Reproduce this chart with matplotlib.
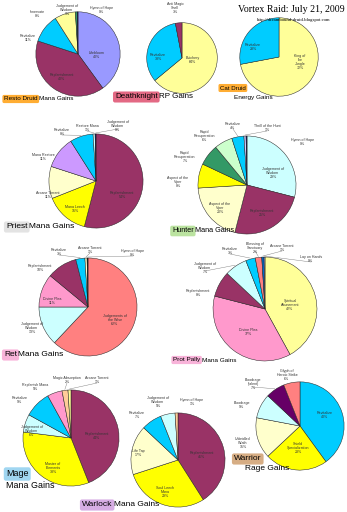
import numpy as np
import matplotlib.pyplot as plt

W, H = 347, 512

# ---- data (values in %) ----
resto_names = ['Lifebloom', 'Replenishment', 'Revitalize', 'Innervate', 'Judgement of\nWisdom', 'Hymn of Hope']
resto_vals = [40, 40, 11, 8, 0.7, 0.3]

dk_names = ['Butchery', 'Revitalize', 'Anti Magic\nShell']
dk_vals = [64, 33, 3]

cat_names = ['King of\nthe\nJungle', 'Revitalize']
cat_vals = [72, 28]

priest_names = ['Replenishment', 'Mana Leech', 'Arcane Torrent', 'Mana Restore', 'Revitalize',
                'Restore Mana', 'Judgement of\nWisdom']
priest_vals = [54, 15, 11, 11, 8, 0.7, 0.3]

hunter_names = ['Judgement of\nWisdom', 'Replenishment', 'Aspect of the\nViper', 'Aspect of the\nViper',
                'Rapid\nRecuperation', 'Rapid\nRecuperation', 'Revitalize', 'Thrill of the Hunt',
                'Hymn of Hope']
hunter_vals = [29, 25, 20, 8, 7, 6, 4, 0.7, 0.3]

ret_names = ['Judgements of\nthe Wise', 'Judgement of\nWisdom', 'Divine Plea', 'Replenishment',
             'Revitalize', 'Arcane Torrent', 'Hymn of Hope']
ret_vals = [62, 13, 11, 10, 3, 0.7, 0.3]

prot_names = ['Spiritual\nAttunement', 'Divine Plea', 'Replenishment', 'Judgement of\nWisdom',
              'Revitalize', 'Blessing of\nSanctuary', 'Arcane Torrent', 'Lay on Hands']
prot_vals = [42, 37, 8, 7, 3, 2, 0.7, 0.3]

mage_names = ['Replenishment', 'Master of\nElements', 'Judgement of\nWisdom', 'Revitalize',
              'Replenish Mana', 'Magic Absorption', 'Arcane Torrent']
mage_vals = [44, 33, 6, 9, 5, 2, 1]

lock_names = ['Replenishment', 'Soul Leech\nMana', 'Life Tap', 'Revitalize',
              'Judgement of\nWisdom', 'Hymn of Hope']
lock_vals = [41, 29, 17, 7, 5, 1]

warrior_names = ['Revitalize', 'Shield\nSpecialization', 'Unbridled\nWrath', 'Bloodrage',
                 'Bloodrage\n(talent)', 'Glyph of\nHeroic Strike']
warrior_vals = [40, 23, 15, 9, 7, 6]

# ---- figure ----
fig = plt.figure(figsize=(W / 100, H / 100), dpi=100)
fig.patch.set_facecolor('white')
plt.rcParams['font.family'] = ['Liberation Sans', 'DejaVu Sans']

pie_axes = []


def draw_pie(cx, cy, r, vals, names, colors, label_pos):
    ax = fig.add_axes([(cx - r) / W, 1 - (cy + r) / H, 2 * r / W, 2 * r / H])
    wedges, _ = ax.pie(vals, colors=colors, startangle=90, counterclock=False, radius=1,
                       wedgeprops=dict(edgecolor='#222222', linewidth=0.35))
    ax.set_xlim(-1.02, 1.02)
    ax.set_ylim(-1.02, 1.02)
    ax.axis('off')
    pie_axes.append((cx, cy, r, wedges, vals, names, label_pos))


def finish_labels(ov):
    for cx, cy, r, wedges, vals, names, label_pos in pie_axes:
        for w, v, n, (lx, ly, lead) in zip(wedges, vals, names, label_pos):
            ov.text(lx, ly, f'{n}\n{v:.0f}%', ha='center', va='center', fontsize=2.6,
                    color='#333333', linespacing=1.1)
            if lead:
                mid = np.deg2rad((w.theta1 + w.theta2) / 2)
                ex = cx + r * np.cos(mid)
                ey = cy - r * np.sin(mid)
                ov.plot([lx, ex], [ly + 3, ey], color='#777777', lw=0.3)


draw_pie(78, 54, 43, resto_vals, resto_names,
         ['#9999FF', '#993366', '#00CCFF', '#FFFF99', '#339966', '#000080'],
         [(97, 55, False), (62, 77, False), (28, 38, False), (37, 14, False),
          (67, 10, False), (102, 10, False)])
draw_pie(182, 58, 36, dk_vals, dk_names, ['#FFFF99', '#00CCFF', '#993366'],
         [(193, 60, False), (158, 57, False), (175, 8, False)])
draw_pie(279, 57, 40, cat_vals, cat_names, ['#FFFF99', '#00CCFF'],
         [(300, 62, False), (253, 47, False)])
draw_pie(96, 181, 48, priest_vals, priest_names,
         ['#993366', '#FFFF00', '#FFFFCC', '#CC99FF', '#00CCFF', '#CCFFFF', '#000080'],
         [(122, 195, False), (75, 209, False), (48, 195, False), (43, 157, False),
          (62, 132, True), (87, 128, True), (118, 126, True)])
draw_pie(247, 185, 50, hunter_vals, hunter_names,
         ['#CCFFFF', '#993366', '#FFFFCC', '#FFFF00', '#339966', '#CCFFCC', '#00CCFF', '#CCCCFF', '#000080'],
         [(273, 173, False), (262, 213, False), (220, 208, False), (178, 182, False),
          (185, 157, False), (205, 136, False), (233, 126, True), (267, 128, True), (303, 142, False)])
draw_pie(88, 307, 50, ret_vals, ret_names,
         ['#FF8080', '#CCFFFF', '#FF99CC', '#993366', '#00CCFF', '#FFFFCC', '#000000'],
         [(115, 320, False), (32, 328, False), (52, 301, False), (40, 268, False),
          (59, 252, True), (90, 250, True), (133, 253, True)])
draw_pie(265, 309, 53, prot_vals, prot_names,
         ['#FFFF99', '#FF99CC', '#993366', '#CCFFFF', '#00CCFF', '#FF8080', '#0066CC', '#CCCCFF'],
         [(290, 305, False), (248, 332, False), (198, 293, False), (205, 268, True),
          (230, 251, True), (255, 248, True), (282, 248, True), (311, 259, True)])
draw_pie(71, 438, 49, mage_vals, mage_names,
         ['#993366', '#FFFF00', '#CCFFFF', '#00CCFF', '#FF99CC', '#FFCC99', '#FFFF99'],
         [(97, 436, False), (53, 468, False), (32, 431, False), (20, 400, False),
          (35, 387, False), (67, 380, True), (97, 380, True)])
draw_pie(178, 460, 48, lock_vals, lock_names,
         ['#993366', '#FFFF00', '#FFFFCC', '#00CCFF', '#CCFFFF', '#FFCC99'],
         [(202, 455, False), (165, 492, False), (138, 453, False), (137, 415, False),
          (158, 402, False), (192, 402, False)])
draw_pie(300, 426, 45, warrior_vals, warrior_names,
         ['#00CCFF', '#FFFF00', '#FFFFCC', '#CCFFFF', '#660066', '#FF8080'],
         [(325, 415, False), (298, 448, False), (243, 443, False), (242, 405, False),
          (253, 384, True), (287, 375, False)])

# overlay axes in pixel coordinates for text
ov = fig.add_axes([0, 0, 1, 1])
ov.set_xlim(0, W)
ov.set_ylim(H, 0)
ov.axis('off')
finish_labels(ov)

ov.text(291, 9, 'Vortex Raid: July 21, 2009', ha='center', va='center', fontsize=7.1,
        family='Liberation Serif')
ov.text(294, 20, 'http://dreambound-druid.blogspot.com', ha='center', va='center', fontsize=3.4,
        family='Liberation Serif')


def class_title(x, y, tag, rest, bg, size, rest_xy=None):
    t = ov.text(x, y, tag, ha='left', va='center', fontsize=size,
                bbox=dict(boxstyle='round,pad=0.25', fc=bg, ec='none', alpha=0.8))
    if rest_xy is None:
        fig.canvas.draw()
        bb = t.get_window_extent()
        x2 = bb.x1 * W / fig.bbox.width + 1.5
        ov.text(x2, y, rest, ha='left', va='center', fontsize=size)
    else:
        ov.text(rest_xy[0], rest_xy[1], rest, ha='left', va='center', fontsize=size)


class_title(4, 99, 'Resto Druid', 'Mana Gains', '#FF9900', 4.6)
class_title(115, 97, 'Deathknight', 'RP Gains', '#DD4466', 5.8)
class_title(220, 88, 'Cat Druid', '', '#FF9900', 4.4, rest_xy=(0, 0))
ov.text(234, 98, 'Energy Gains', ha='left', va='center', fontsize=4.6)
class_title(6, 227, 'Priest', 'Mana Gains', '#DDDDDD', 6)
class_title(172, 231, 'Hunter', 'Mana Gains', '#AADD88', 5.2)
class_title(4, 355, 'Ret', 'Mana Gains', '#F7A0D0', 6)
class_title(173, 360, 'Prot Pally', 'Mana Gains', '#F7A0D0', 4.6)
class_title(6, 474, 'Mage', '', '#88CCEE', 6.4, rest_xy=(0, 0))
ov.text(6, 485, 'Mana Gains', ha='left', va='center', fontsize=6.4)
class_title(82, 505, 'Warlock', 'Mana Gains', '#CC99DD', 6)
class_title(234, 459, 'Warrior', '', '#CC9966', 6, rest_xy=(0, 0))
ov.text(245, 469, 'Rage Gains', ha='left', va='center', fontsize=6)

plt.savefig('out.png', dpi=100)
